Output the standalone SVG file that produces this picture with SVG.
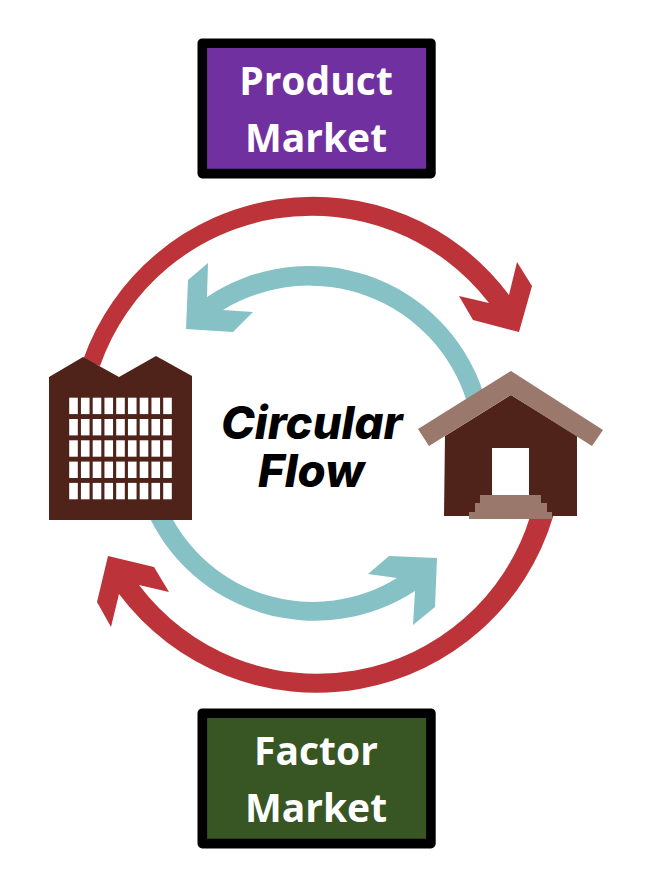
<svg xmlns="http://www.w3.org/2000/svg" width="646" height="876" viewBox="0 0 646 876">
<style>
.box{stroke:#000;stroke-width:9.6;stroke-linejoin:round}
.lbl{font:700 39px "Open Sans","Liberation Sans",sans-serif;fill:#fff;text-anchor:middle}
.title{font:italic 800 45.5px Inter,"Liberation Sans",sans-serif;fill:#000}
.red{fill:#BC3339}
.teal{fill:#85C1C5}
.brown{fill:#50231A}
.tan{fill:#9A786C}
.win{fill:#fff}
</style>
<defs>
<rect id="w" class="win" width="8.6" height="16.4"/>
<g id="row"><use href="#w" x="0"/><use href="#w" x="11.75"/><use href="#w" x="23.5"/><use href="#w" x="35.25"/><use href="#w" x="47"/><use href="#w" x="58.75"/><use href="#w" x="70.5"/><use href="#w" x="82.25"/><use href="#w" x="94"/></g>
</defs>
<rect width="646" height="876" fill="#fff"/>
<g id="connectors">
<path id="red-top" class="red" d="M83 360A244 244 0 0 1 509 295L517 262L532 286L519 332L473 320L459 296L489 303A224 224 0 0 0 100 366Z"/>
<path id="red-bottom" class="red" d="M108 556L154 567L169 592L139 585A223 223 0 0 0 530 517L534 505L556 505L553 517A247 247 0 0 1 119 594L111 627L97 602Z"/>
<path id="teal-top" class="teal" d="M186 329L188 280L208 263L207 297A183 183 0 0 1 483 392L467 402A165 165 0 0 0 223 310L253 312L233 332Z"/>
<path id="teal-bottom" class="teal" d="M368 574L389 556L437 558L435 607L413 625L415 591A184 184 0 0 1 146 510L168 510A160 160 0 0 0 397 578Z"/>
</g>
<g id="product-market">
<rect class="box" x="202.3" y="43.2" width="228.6" height="130.4" fill="#7030A0"/>
<text class="lbl" x="316" y="95">Product</text>
<text class="lbl" x="316" y="152">Market</text>
</g>
<g id="factor-market">
<rect class="box" x="202.3" y="713.2" width="228.6" height="130.4" fill="#375623"/>
<text class="lbl" x="316" y="765">Factor</text>
<text class="lbl" x="316" y="822">Market</text>
</g>
<g id="factory">
<path class="brown" d="M49 377L83 357L119 377L156 356L192 376V520H49Z"/>
<use href="#row" x="69.2" y="397.7"/>
<use href="#row" x="69.2" y="419"/>
<use href="#row" x="69.2" y="440.3"/>
<use href="#row" x="69.2" y="461.6"/>
<use href="#row" x="69.2" y="482.9"/>
</g>
<g id="house">
<path class="brown" d="M445 436L511 395L577 436V516H444Z"/>
<path class="tan" d="M511 371L603 430L592 446L511 395L429 446L418 429Z"/>
<rect class="win" x="492" y="448" width="37" height="47"/>
<path class="tan" d="M480 495H541V503H547V512H552V519H469V512H475V503H480Z"/>
</g>
<g id="circular-flow">
<text class="title" x="221" y="439">Circular</text>
<text class="title" x="258" y="487">Flow</text>
</g>
</svg>
